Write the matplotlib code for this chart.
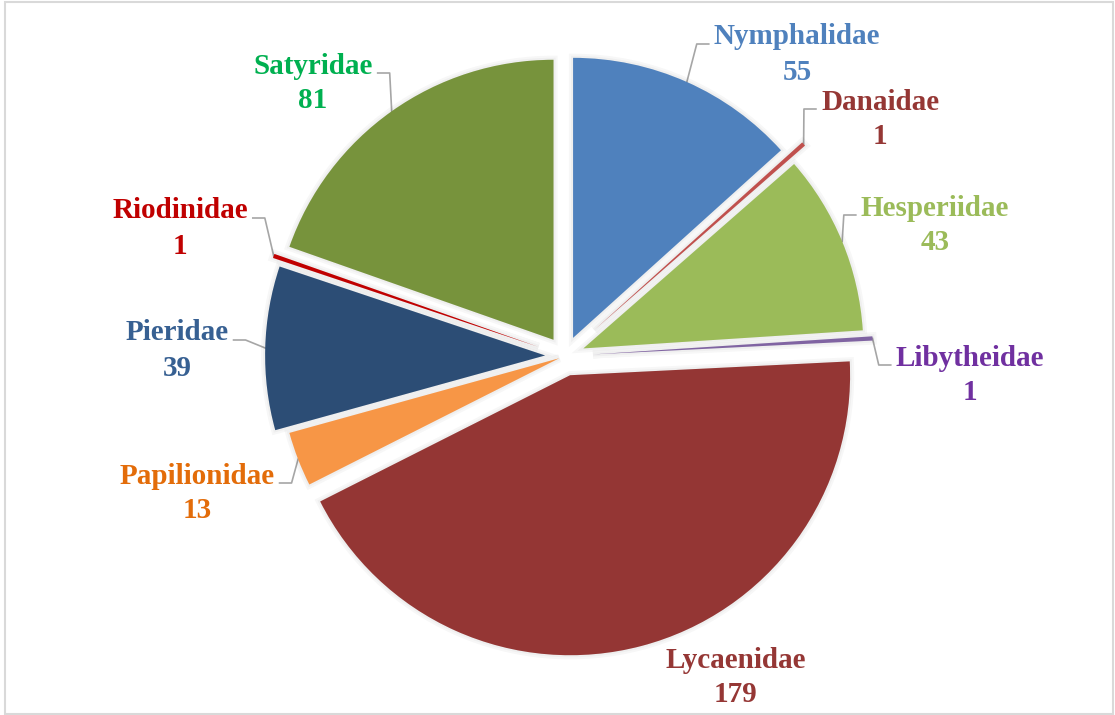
import matplotlib
matplotlib.use("Agg")
import matplotlib.pyplot as plt
import matplotlib.patheffects as pe
from matplotlib.patches import Rectangle
import numpy as np

# butterfly families and species counts
families = ["Nymphalidae", "Danaidae", "Hesperiidae", "Libytheidae", "Lycaenidae",
            "Papilionidae", "Pieridae", "Riodinidae", "Satyridae"]
counts = [55, 1, 43, 1, 179, 13, 39, 1, 81]

slice_colors = ["#4F81BD", "#C0504D", "#9BBB59", "#8064A2", "#943634",
                "#F79646", "#2C4D75", "#C00000", "#77933C"]
label_colors = ["#4F81BD", "#953735", "#9BBB59", "#7030A0", "#953735",
                "#E36C09", "#376092", "#C00000", "#00B050"]
explode = [0.071, 0.14, 0.071, 0.10, 0.071, 0.022, 0.071, 0.10, 0.071]

# layout: label name centre in pixels (from top-left), side of the leader
label_px = [(797, 37), (880, 102), (935, 208), (970, 358), (736, 660),
            (197, 476), (177, 333), (180, 211), (313, 66)]
label_side = ["r", "r", "r", "r", None, "l", "l", "l", "l"]

W, H = 1115, 715
cx, cy, R = 565, 356, 280.0

fig = plt.figure(figsize=(W / 100, H / 100), dpi=100)
ax = fig.add_axes([0, 0, 1, 1])

wedges, _ = ax.pie(counts, colors=slice_colors, startangle=90, counterclock=False,
                   explode=explode, radius=1, wedgeprops=dict(linewidth=0))
for w in wedges:
    w.set_path_effects([pe.Stroke(linewidth=6, foreground="black", alpha=0.03),
                        pe.Stroke(linewidth=3, foreground="black", alpha=0.03),
                        pe.Normal()])

ax.set_xlim(-cx / R, (W - cx) / R)
ax.set_ylim(-(H - cy) / R, cy / R)
ax.set_aspect("auto")
ax.axis("off")


def px2d(px, py):
    return (px - cx) / R, (cy - py) / R


font = dict(family=["Liberation Serif", "DejaVu Serif"], fontweight="bold", fontsize=21)
names = []
for i, fam in enumerate(families):
    x, y = px2d(*label_px[i])
    t = ax.text(x, y, fam, color=label_colors[i], ha="center", va="center", **font)
    x2, y2 = px2d(label_px[i][0], label_px[i][1] + 35)
    ax.text(x2, y2, str(counts[i]), color=label_colors[i], ha="center", va="center", **font)
    names.append(t)

fig.canvas.draw()
inv = ax.transData.inverted()
total = float(sum(counts))
cum = 0.0
for i, fam in enumerate(families):
    mid = 90 - (cum + counts[i] / 2.0) / total * 360
    cum += counts[i]
    if label_side[i] is None:
        continue
    a = np.deg2rad(mid)
    r = 1 + explode[i]
    sx, sy = r * np.cos(a), r * np.sin(a)
    bb = names[i].get_window_extent()
    yc = (bb.y0 + bb.y1) / 2 - 7
    if label_side[i] == "r":
        ex = bb.x0 - 5
        elx = ex - 12
    else:
        ex = bb.x1 + 5
        elx = ex + 12
    (exd, eyd), (elxd, _) = inv.transform([(ex, yc), (elx, yc)])
    ax.plot([sx, elxd, exd], [sy, eyd, eyd], color="#A6A6A6", lw=1.2, zorder=0.5)

fig.patches.append(Rectangle((5 / W, 1 - 714 / H), 1108 / W, 712 / H, transform=fig.transFigure,
                             fill=False, edgecolor="#D9D9D9", lw=1.5))

fig.savefig("out.png", dpi=100)
